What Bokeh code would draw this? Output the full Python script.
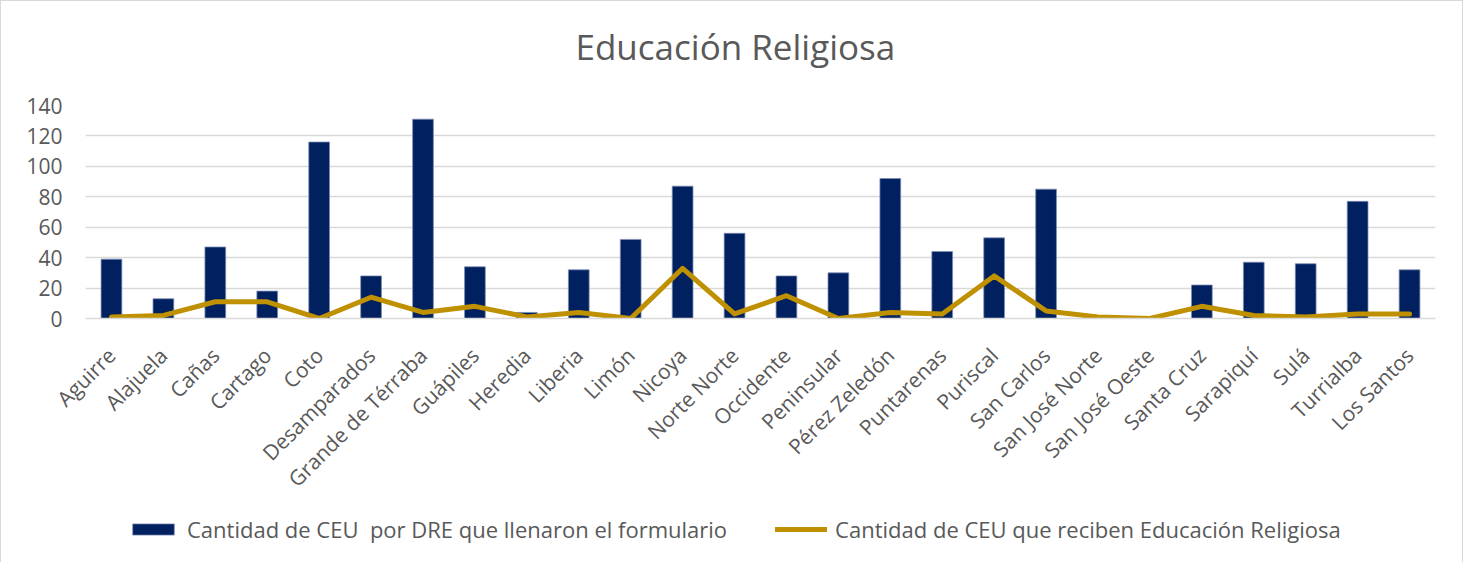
import math
from bokeh.plotting import figure
from bokeh.layouts import column
from bokeh.models import (Range1d, FactorRange, Legend, LegendItem,
                          ColumnDataSource, Title)
from bokeh.embed import file_html
from bokeh.resources import INLINE

categories = ["Aguirre", "Alajuela", "Cañas", "Cartago", "Coto", "Desamparados",
              "Grande de Térraba", "Guápiles", "Heredia", "Liberia", "Limón",
              "Nicoya", "Norte Norte", "Occidente", "Peninsular", "Pérez Zeledón",
              "Puntarenas", "Puriscal", "San Carlos", "San José Norte",
              "San José Oeste", "Santa Cruz", "Sarapiquí", "Sulá", "Turrialba",
              "Los Santos"]
ceu_formulario = [39, 13, 47, 18, 116, 28, 131, 34, 4, 32, 52, 87, 56, 28, 30,
                  92, 44, 53, 85, 0, 0, 22, 37, 36, 77, 32]
ceu_religiosa = [1, 2, 11, 11, 0, 14, 4, 8, 1, 4, 0, 33, 3, 15, 0, 4, 3, 28, 5,
                 1, 0, 8, 2, 1, 3, 3]
y_ticks = [0, 20, 40, 60, 80, 100, 120, 140]

title_text = "Educación Religiosa"
label_bars = "Cantidad de CEU  por DRE que llenaron el formulario"
label_line = "Cantidad de CEU que reciben Educación Religiosa"

FONT = "Open Sans"
GRAY = "#595959"
BAR_FILL = "#002060"
BAR_EDGE = "#7F8FB5"
LINE_COLOR = "#BF9000"
BORDER = "1px solid #D9D9D9"

src = ColumnDataSource(dict(cat=categories, bars=ceu_formulario, line=ceu_religiosa))

p = figure(x_range=FactorRange(factors=categories, range_padding=0),
           y_range=Range1d(0, 140),
           width=1463, height=505,
           output_backend="svg", toolbar_location=None,
           title_location=None,
           min_border_left=84, min_border_right=29,
           min_border_top=104, min_border_bottom=188,
           styles={"border-left": BORDER, "border-right": BORDER,
                   "border-top": BORDER})

p.vbar(x="cat", top="bars", width=0.4, source=src,
       fill_color=BAR_FILL, line_color=BAR_EDGE, line_width=0.75)
p.line(x="cat", y="line", source=src, line_color=LINE_COLOR,
       line_width=5, line_cap="round", line_join="round")

# spacer between frame and title, then the title itself
p.add_layout(Title(text="\u00a0", text_font_size="2px", standoff=27), "above")
p.add_layout(Title(text=title_text, text_font=FONT, text_font_size="35px",
                   text_font_style="normal", text_color=GRAY, align="left",
                   offset=490, vertical_align="bottom", standoff=10), "above")

p.outline_line_color = None
p.xgrid.grid_line_color = None
p.ygrid.grid_line_color = "#D9D9D9"
p.ygrid.grid_line_width = 1.5

p.yaxis.ticker = y_ticks
p.yaxis.axis_line_color = None
p.yaxis.major_tick_line_color = None
p.yaxis.minor_tick_line_color = None
p.yaxis.major_tick_out = 0
p.yaxis.major_tick_in = 0
p.yaxis.major_label_standoff = 23
p.yaxis.major_label_text_font = FONT
p.yaxis.major_label_text_font_size = "21px"
p.yaxis.major_label_text_color = GRAY

p.xaxis.axis_line_color = "#D9D9D9"
p.xaxis.axis_line_width = 1.5
p.xaxis.major_tick_line_color = None
p.xaxis.major_tick_out = 0
p.xaxis.major_tick_in = 0
p.xaxis.major_label_orientation = math.pi / 4
p.xaxis.major_label_standoff = 33
p.xaxis.major_label_text_font = FONT
p.xaxis.major_label_text_font_size = "21px"
p.xaxis.major_label_text_color = GRAY

# legend strip: its own figure (frame aligned with the chart's by the column),
# so that the legend is not clipped by the chart frame. Its numeric x range
# cannot place the categorical data, so only the legend keys are drawn.
lg = figure(width=1463, height=57,
            x_range=Range1d(0, 1), y_range=Range1d(0, 140),
            x_axis_location=None, y_axis_location=None,
            title_location=None,
            output_backend="svg", toolbar_location=None,
            min_border=0, outline_line_color=None,
            styles={"border-left": BORDER, "border-right": BORDER})
lg.grid.visible = False
key_bar = lg.vbar(x="cat", top="bars", width=0.4, source=src,
                  fill_color=BAR_FILL, line_color=BAR_EDGE, line_width=0.75)
key_line = lg.line(x="cat", y="line", source=src,
                   line_color=LINE_COLOR, line_width=5, line_cap="round")

legend = Legend(items=[LegendItem(label=label_bars, renderers=[key_bar]),
                       LegendItem(label=label_line, renderers=[key_line])],
                orientation="horizontal", location=(42, 18),
                label_text_font=FONT, label_text_font_size="22px",
                label_text_color=GRAY, glyph_width=52, glyph_height=14,
                label_standoff=8, spacing=48, padding=0, margin=0,
                border_line_color=None, background_fill_alpha=0)
lg.add_layout(legend)

layout = column(p, lg, spacing=0)
open("out.html", "w").write(file_html(layout, INLINE))
